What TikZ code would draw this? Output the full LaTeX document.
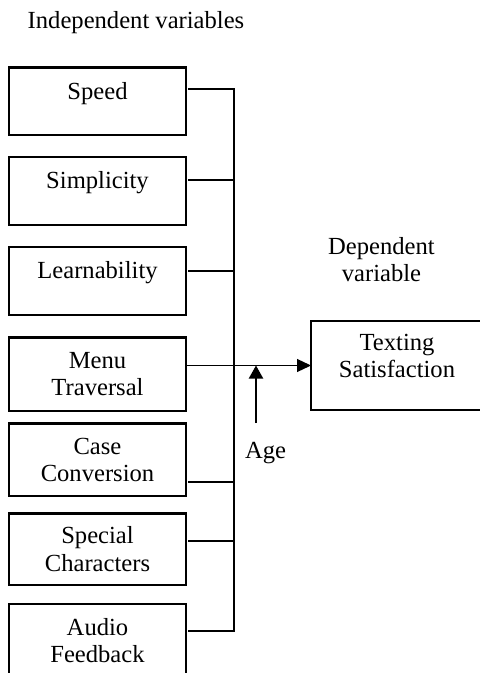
\documentclass[tikz,border=0pt]{standalone}
\usepackage{fontspec}
\setmainfont{Liberation Serif}
\usetikzlibrary{arrows.meta}
\newcommand{\liftup}[2]{\raisebox{#1}[\height][\depth]{#2}}
\begin{document}
\begin{tikzpicture}[x=0.5pt,y=-0.5pt,
  every node/.style={font=\fontsize{12.3}{13.75}\selectfont},
  varbox/.style={draw, line width=1.2pt, minimum width=88.5pt, inner sep=0pt, outer sep=0pt, align=center},
  link/.style={line width=1pt},
  feed/.style={line width=0.6pt, -{Triangle[length=7pt,width=6.5pt]}},
  moder/.style={line width=1pt, -{Triangle[length=6.5pt,width=7pt]}},
]
\useasboundingbox (0,0) rectangle (479,673);

% text labels
\node (iv) at (136,23) {Independent variables};
\node[align=center] (dv) at (381.5,259.7) {Dependent\\variable};
\node (age) at (265.5,453) {Age};

% independent variable boxes
\node[varbox, minimum height=33.75pt] (spd) at (97.5,101.25) {\liftup{4pt}{Speed}};
\node[varbox, minimum height=34pt] (sim) at (97.5,191) {\liftup{4pt}{Simplicity}};
\node[varbox, minimum height=34pt] (lrn) at (97.5,281) {\liftup{4pt}{Learnability}};
\node[varbox, minimum height=36.75pt] (men) at (97.5,374.25) {Menu\\Traversal};
\node[varbox, minimum height=36.25pt] (cas) at (97.5,459.75) {Case\\Conversion};
\node[varbox, minimum height=35.75pt] (spc) at (97.5,549.25) {Special\\Characters};
\node[varbox, minimum height=36.5pt] (aud) at (97.5,640.5) {Audio\\Feedback};

% dependent variable box
\node[varbox, minimum width=86pt, minimum height=44.5pt] (ts) at (397,365.5)
  {\liftup{3.5pt}{\begin{tabular}{@{}c@{}}Texting\\Satisfaction\end{tabular}}};

% bus coordinates
\coordinate (b1) at (234,89);
\coordinate (b2) at (234,180);
\coordinate (b3) at (234,271);
\coordinate (b5) at (234,482);
\coordinate (b6) at (234,541);
\coordinate (b7) at (234,631);
\coordinate (agetail) at (256,423);

% connectors
\draw[link, shorten <=1pt, shorten >=1pt] (spd.east |- b1) -- (b1) -- (b7) -- (aud.east |- b7);
\draw[link, shorten <=1pt] (sim.east |- b2) -- (b2);
\draw[link, shorten <=1pt] (lrn.east |- b3) -- (b3);
\draw[link, shorten <=1pt] (cas.east |- b5) -- (b5);
\draw[link, shorten <=1pt] (spc.east |- b6) -- (b6);
\draw[feed] (men.east |- ts.west) -- (ts.west);
\draw[moder] (agetail) -- (agetail |- ts.west);
\end{tikzpicture}
\end{document}
